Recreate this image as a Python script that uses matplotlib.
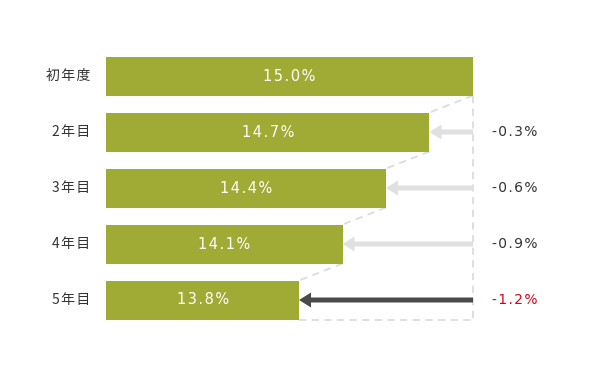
import matplotlib.pyplot as plt

# data
years = ['初年度', '2年目', '3年目', '4年目', '5年目']
rates = [15.0, 14.7, 14.4, 14.1, 13.8]
changes = ['', '-0.3%', '-0.6%', '-0.9%', '-1.2%']

bar_color = '#a0ab35'
base = 12.47          # value where the bars start
px_x = 145.0          # pixels per 1%
px_y = 56.0           # pixels per row


def spaced(s):
    # fake letter spacing with hair spaces
    return '\u200a'.join(s)


fig = plt.figure(figsize=(6, 3.74), dpi=100)
ax = fig.add_axes([0, 0, 1, 1])
ax.set_xlim(15.0 - 473 / px_x, 15.0 + 127 / px_x)
ax.set_ylim((374 - 76) / px_y, -76 / px_y)
ax.set_axis_off()

h = 39 / px_y
ypos = list(range(len(years)))
ax.barh(ypos, [r - base for r in rates], left=base, height=h, color=bar_color, zorder=2)

jp = ['Noto Sans CJK JP', 'DejaVu Sans']
top = rates[0]
dash = dict(color='#dcdcdc', lw=1.3, ls=(0, (4, 3)), zorder=1)

for i, (y, r) in enumerate(zip(ypos, rates)):
    ax.text(base - 0.11, y, spaced(years[i]), ha='right', va='center', fontsize=10,
            family=jp, color='#333333')
    ax.text(base + (r - base) / 2, y, spaced(f'{r:.1f}%'), ha='center', va='center',
            fontsize=10.5, color='white', zorder=3)
    if i > 0:
        # diagonal from previous bar corner to this bar corner
        ax.plot([rates[i - 1], r], [y - 1 + h / 2, y - h / 2], **dash)
        last = i == len(years) - 1
        col = '#4a4a4a' if last else '#e0e0e0'
        ax.arrow(top, y, r - top, 0, width=5 / px_y, head_width=15 / px_y,
                 head_length=12 / px_x, length_includes_head=True,
                 color=col, lw=0, zorder=2)
        ax.text(top + 19 / px_x, y, spaced(changes[i]), ha='left', va='center',
                fontsize=10, color='#d0021b' if last else '#333333')

# vertical and bottom dashed guides
ax.plot([top, top], [ypos[0] + h / 2, ypos[-1] + h / 2], **dash)
ax.plot([rates[-1], top], [ypos[-1] + h / 2, ypos[-1] + h / 2], **dash)

fig.savefig('out.png', dpi=100)
